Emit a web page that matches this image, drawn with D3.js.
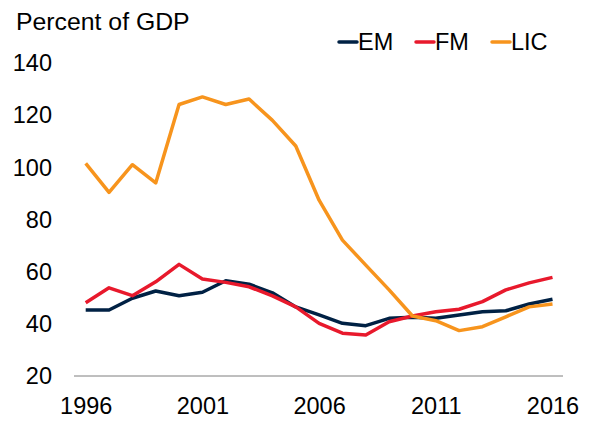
<!DOCTYPE html>
<html>
<head>
<meta charset="utf-8">
<script src="https://cdn.jsdelivr.net/npm/d3@7"></script>
<style>
  body { margin: 0; background: #fff; }
  svg { font-family: "Liberation Sans", Arial, sans-serif; }
</style>
</head>
<body>
<svg></svg>
<script>
var years = d3.range(1996, 2017);
var yTicks = [20, 40, 60, 80, 100, 120, 140];
var xTicks = [1996, 2001, 2006, 2011, 2016];

var em  = [45.3, 45.3, 49.8, 52.6, 50.8, 52.1, 56.5, 55.2, 51.9, 46.5, 43.4, 40.2, 39.3, 42.1, 42.5, 42.1, 43.4, 44.6, 45.0, 47.6, 49.4];
var fm  = [48.1, 53.8, 50.8, 56.1, 62.8, 57.2, 55.9, 54.2, 50.7, 46.5, 40.2, 36.4, 35.7, 40.8, 43.0, 44.6, 45.6, 48.5, 53.0, 55.7, 57.8];
var lic = [101.5, 90.4, 101.0, 94.0, 124.1, 127.0, 124.1, 126.2, 118.0, 108.2, 87.4, 72.1, 62.5, 53.0, 43.0, 41.2, 37.4, 38.9, 42.7, 46.5, 47.6];

var seriesNames = ["EM", "FM", "LIC"];
var colors = ["#002144", "#e8192c", "#f7941d"];

var width = 591, height = 422;
var svg = d3.select("svg")
    .attr("width", width)
    .attr("height", height);

var x = d3.scaleLinear()
    .domain([1996, 2016])
    .range([85.7, 552.5]);

var y = d3.scaleLinear()
    .domain([20, 140])
    .range([376, 63]);

// title
svg.append("text")
    .attr("x", 16)
    .attr("y", 30)
    .attr("font-size", 24.8)
    .attr("fill", "#000")
    .text("Percent of GDP");

// y tick labels
svg.append("g")
  .selectAll("text")
  .data(yTicks)
  .enter()
  .append("text")
    .attr("x", 52)
    .attr("y", function(d) { return y(d); })
    .attr("dy", "0.35em")
    .attr("text-anchor", "end")
    .attr("font-size", 23.5)
    .text(function(d) { return d; });

// x axis
var xAxis = svg.append("g")
    .attr("transform", "translate(0,376)")
    .call(d3.axisBottom(x).tickValues(xTicks).tickSize(0).tickPadding(21).tickFormat(d3.format("d")));
xAxis.select(".domain")
    .attr("d", "M74,0H563")
    .attr("stroke", "#7f7f7f")
    .attr("stroke-width", 1);
xAxis.selectAll("text")
    .attr("font-size", 23.5)
    .attr("font-family", "Liberation Sans, Arial, sans-serif")
    .attr("fill", "#000");

var line = d3.line()
    .x(function(d, i) { return x(years[i]); })
    .y(function(d) { return y(d); });

var data = [em, fm, lic];
data.forEach(function(values, k) {
  svg.append("path")
      .datum(values)
      .attr("fill", "none")
      .attr("stroke", colors[k])
      .attr("stroke-width", 3.5)
      .attr("stroke-linejoin", "round")
      .attr("d", line);
});

// legend
var legendX = [339, 416, 492];
var legend = svg.append("g");
seriesNames.forEach(function(name, i) {
  legend.append("line")
      .attr("x1", legendX[i])
      .attr("x2", legendX[i] + 18)
      .attr("y1", 42)
      .attr("y2", 42)
      .attr("stroke", colors[i])
      .attr("stroke-width", 3.5)
      .attr("stroke-linecap", "round");
  legend.append("text")
      .attr("x", legendX[i] + 19)
      .attr("y", 50)
      .attr("font-size", 23.5)
      .text(name);
});
</script>
</body>
</html>
